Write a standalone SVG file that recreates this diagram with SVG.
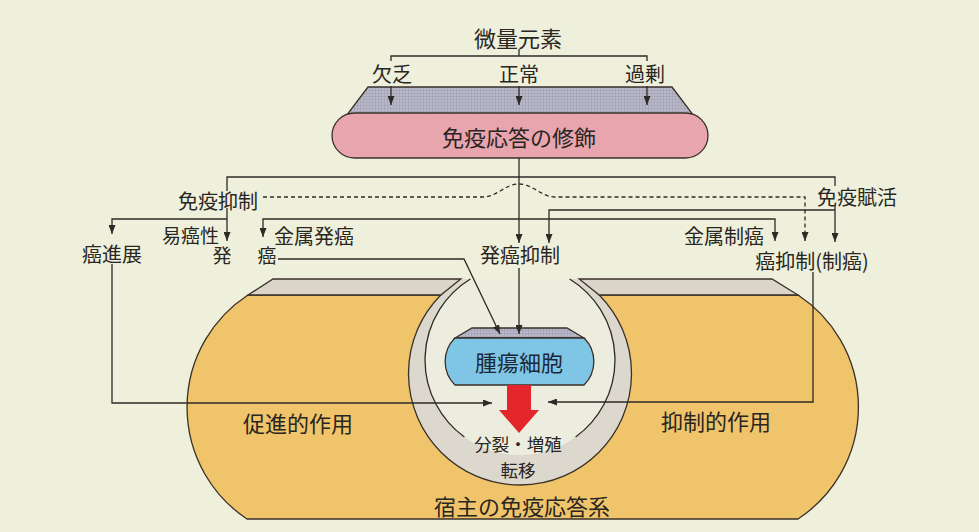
<svg xmlns="http://www.w3.org/2000/svg" width="979" height="532" viewBox="0 0 979 532">
<defs>
<style>
.t{font-family:"Noto Sans CJK JP","Noto Sans",sans-serif;fill:#2a2622;text-anchor:middle;dominant-baseline:central;font-size:20px}
.g{font-size:22px}
.s{font-size:19px}
.p{font-size:17.5px}
.ln{fill:none;stroke:#2e2a26;stroke-width:1.3}
.ar{marker-end:url(#ah)}
.ds{stroke-dasharray:4 3}
.ol{stroke:#3a302a;stroke-width:1.3}
</style>
<marker id="ah" viewBox="0 0 9 7" refX="9" refY="3.5" markerWidth="9" markerHeight="7" markerUnits="userSpaceOnUse" orient="auto"><path d="M0,0 L9,3.5 L0,7 z" fill="#2e2a26"/></marker>
<pattern id="grid" width="3" height="3" patternUnits="userSpaceOnUse"><rect width="3" height="3" fill="#bab9ca"/><path d="M0 0.5H3M0.5 0V3" stroke="#a09fb2" stroke-width="0.6"/></pattern>
<clipPath id="cut"><rect x="0" y="279" width="979" height="253"/></clipPath>
</defs>
<rect width="979" height="532" fill="#eef0dc"/>

<g id="host">
<circle cx="520" cy="373.5" r="111.5" fill="#dcd8cd" clip-path="url(#cut)"/>
<path d="M248 295 L440.8 295 A111.5 111.5 0 1 0 599.2 295 L798 295 A134 134 0 0 1 798 519 L247 519 A134 134 0 0 1 248 295 Z" fill="#f0c46a" class="ol"/>
<polygon points="273,279 460.8,279 440.8,295 248,295" fill="#dbd5c9" class="ol"/>
<polygon points="579.2,279 772,279 798,295 599.2,295" fill="#dbd5c9" class="ol"/>
<circle cx="520" cy="360" r="95" fill="#eceddf" clip-path="url(#cut)"/>
<path class="ln" d="M470.4 279 A95 95 0 0 0 464.4 437 M569.6 279 A95 95 0 0 1 575.6 437"/>
<text class="t g" x="298" y="422">促進的作用</text>
<text class="t g" x="716" y="420">抑制的作用</text>
<text class="t g" x="522" y="505">宿主の免疫応答系</text>
</g>

<g id="modulation">
<polygon points="368,87 672,87 694,116 346,116" fill="url(#grid)" class="ol"/>
<rect x="332" y="113" width="376" height="45" rx="22.5" fill="#e9a5ae" class="ol"/>
<text class="t g" x="519" y="136">免疫応答の修飾</text>
</g>

<g id="tumor">
<polygon points="472,328 567,328 584,338 455,338" fill="url(#grid)" class="ol"/>
<path d="M455 338 L584 338 A33 33 0 0 1 584 385 L455 385 A33 33 0 0 1 455 338 Z" fill="#7fc6e6" class="ol"/>
<text class="t g" x="519" y="361" style="fill:#1c2838">腫瘍細胞</text>
</g>

<g id="proliferation">
<polygon points="507,385 531,385 531,410 539,410 519,433 499,410 507,410" fill="#e3262b"/>
<text class="t p" x="518" y="443">分裂・増殖</text>
<text class="t p" x="518" y="469">転移</text>
</g>

<g id="trace"><text class="t g" x="518" y="37">微量元素</text></g>
<g id="deficiency"><text class="t" x="392" y="73">欠乏</text></g>
<g id="normal"><text class="t" x="519" y="73">正常</text></g>
<g id="excess"><text class="t" x="645" y="73">過剰</text></g>
<g id="immunosuppression"><text class="t" x="218" y="200">免疫抑制</text></g>
<g id="immunoactivation"><text class="t" x="857" y="196">免疫賦活</text></g>
<g id="susceptibility"><text class="t s" x="219" y="234" style="text-anchor:end">易癌性</text></g>
<g id="metal-carcinogenesis"><text class="t" x="314" y="235">金属発癌</text></g>
<g id="metal-anticancer"><text class="t" x="724" y="235">金属制癌</text></g>
<g id="progression"><text class="t" x="112" y="253">癌進展</text></g>
<g id="carcinogenesis"><text class="t s" x="222" y="254">発</text><text class="t s" x="267" y="254">癌</text></g>
<g id="cancer-prevention"><text class="t" x="520" y="254">発癌抑制</text></g>
<g id="cancer-suppression"><text class="t" x="812" y="260">癌抑制(制癌)</text></g>

<g id="connectors">
<path class="ln" d="M391 61 V56 H647 V61 M519 49 V56"/>
<path class="ln ar" d="M391 86 V105"/>
<path class="ln ar" d="M519 86 V105"/>
<path class="ln ar" d="M647 86 V105"/>
<path class="ln ar" d="M519 158 V243"/>
<path class="ln" d="M227 191 V177 H835 V186"/>
<path class="ln ar" d="M227 208 V241"/>
<path class="ln ar" d="M227 219 H112 V234"/>
<path class="ln ar" d="M400 219 H263 V237"/>
<path class="ln ar" d="M400 219 H775 V241"/>
<path class="ln ar" d="M835 205 V242"/>
<path class="ln ar" d="M835 210 H549 V243"/>
<path class="ln ds ar" d="M263 197 H483 C497 197 505 184 519 184 C533 184 541 197 555 197 H805 V241"/>
<path class="ln ar" d="M278 259 H464 L500 334"/>
<path class="ln ar" d="M519 268 V334"/>
<path class="ln ar" d="M112 264 V403 H492"/>
<path class="ln ar" d="M813 272 V402 H548"/>
</g>
</svg>
